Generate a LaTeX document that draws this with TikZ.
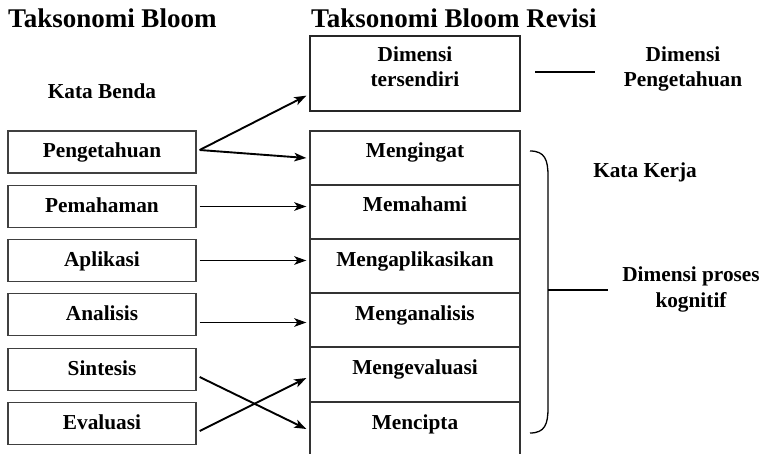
\documentclass[tikz,border=0pt]{standalone}
\usepackage{fontspec}
\setmainfont{Liberation Serif}
\usetikzlibrary{arrows.meta}
\begin{document}
\begin{tikzpicture}[x=1pt,y=-1pt,
  every node/.style={font=\bfseries\fontsize{21.3}{25}\selectfont, inner sep=0pt},
  titletext/.style={font=\bfseries\fontsize{27}{30}\selectfont, anchor=base west},
  lbox/.style={draw=black!75, line width=1.3pt, minimum width=188pt, text height=27pt, text depth=15pt},
  rcell/.style={draw=black!80, line width=1.3pt, minimum width=210pt, text height=27pt, text depth=27pt},
  plain/.style={anchor=base},
  arr/.style={line width=1.9pt, -{Stealth[length=12pt,width=8.5pt,inset=3pt]}},
  thin/.style={line width=1.3pt}]
\useasboundingbox (0,0) rectangle (768,454);
\fill[white] (0,0) rectangle (768,454);
% titles
\node[titletext] (t1) at (8,28) {Taksonomi Bloom};
\node[titletext] (t2) at (311,28) {Taksonomi Bloom Revisi};
\node[plain] (kb) at (102,99) {Kata Benda};
% left boxes
\node[lbox] (peng) at (102,152) {Pengetahuan};
\node[lbox] (pem) at (102,206.5) {Pemahaman};
\node[lbox] (apl) at (102,260.5) {Aplikasi};
\node[lbox] (ana) at (102,314.5) {Analisis};
\node[lbox] (sin) at (102,369.5) {Sintesis};
\node[lbox] (eva) at (102,423.5) {Evaluasi};
% top right box
\node[draw=black!85, line width=1.3pt, minimum width=210pt, minimum height=75pt] (dt) at (415,73.5) {};
\node[plain] (dt1) at (415,62) {Dimensi};
\node[plain] (dt2) at (415,87) {tersendiri};
% right cells
\node[rcell] (c1) at (415,158) {Mengingat};
\node[rcell] (c2) at (415,212) {Memahami};
\node[rcell] (c3) at (415,266) {Mengaplikasikan};
\node[rcell] (c4) at (415,320) {Menganalisis};
\node[rcell] (c5) at (415,374.5) {Mengevaluasi};
\node[rcell] (c6) at (415,429) {Mencipta};
% right labels
\node[plain] (dp1) at (683,62) {Dimensi};
\node[plain] (dp2) at (683,87) {Pengetahuan};
\node[plain] (kk) at (645,178) {Kata Kerja};
\node[plain] (dk1) at (691,282) {Dimensi proses};
\node[plain] (dk2) at (691,308) {kognitif};
% line to Dimensi Pengetahuan
\coordinate (la) at (535,72);
\coordinate (lb) at (595,72);
\draw[thin] (la) -- (lb);
% brace
\coordinate (bt) at (530,151);
\coordinate (bb) at (530,433);
\coordinate (bm) at (548,290);
\coordinate (be) at (608,290);
\draw[thin] (bt) .. controls (545,151) and (548,160) .. (548,176) -- (548,408) .. controls (548,424) and (545,433) .. (bb);
\draw[thin] (bm) -- (be);
% arrows
\draw[arr] ([shift={(3,-2)}]peng.east) -- ([shift={(-3,-16)}]dt.south west);
\draw[arr] ([shift={(3,-2)}]peng.east) -- ([xshift=-3pt]c1.west);
\draw[arr] ([xshift=3pt]pem.east) -- ([xshift=-3pt]pem.east -| c2.west);
\draw[arr] ([xshift=3pt]apl.east) -- ([xshift=-3pt]apl.east -| c3.west);
\draw[arr] ([shift={(3,8)}]ana.east) -- ([shift={(-3,8)}]ana.east -| c4.west);
\draw[arr] ([shift={(3,7.5)}]sin.east) -- ([xshift=-3pt]c6.west);
\draw[arr] ([shift={(3,7.5)}]eva.east) -- ([shift={(-3,3.5)}]c5.west);
\end{tikzpicture}
\end{document}
